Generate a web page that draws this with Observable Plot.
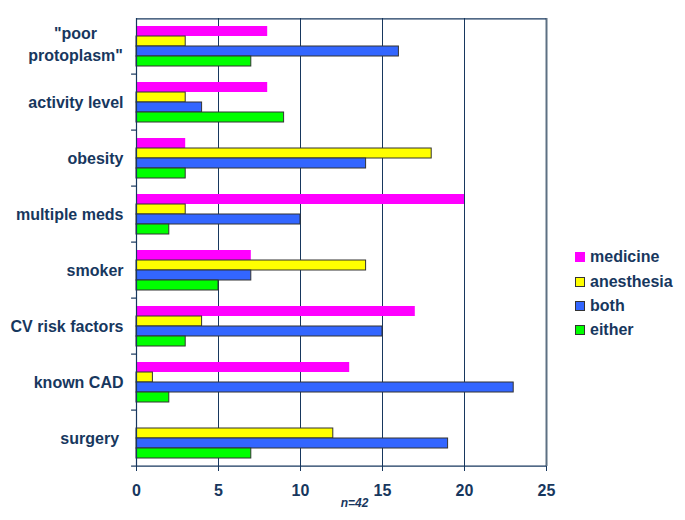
<!DOCTYPE html>
<html><head><meta charset="utf-8">
<script src="https://cdn.jsdelivr.net/npm/d3@7"></script>
<script src="https://cdn.jsdelivr.net/npm/@observablehq/plot@0.6"></script>
<style>
body{margin:0;background:#fff;}
#wrap{position:relative;width:685px;height:520px;font-family:"Liberation Sans",Arial,sans-serif;}
#legend{position:absolute;left:575px;top:245px;}
.item{display:flex;align-items:center;height:24.4px;font-size:16px;font-weight:bold;color:#17375e;}
.sw{width:10px;height:10px;margin-right:5px;box-sizing:border-box;}
svg text{white-space:pre;}
</style></head><body><div id="wrap"><div id="legend"></div></div>
<script>
const categories = ["poor protoplasm", "activity level", "obesity", "multiple meds", "smoker", "CV risk factors", "known CAD", "surgery"];
const categoryLabels = ['"poor\nprotoplasm"', "activity level", "obesity", "multiple meds", "smoker", "CV risk factors", "known CAD", "surgery "];
const series = ["medicine", "anesthesia", "both", "either"];
const medicine   = [8, 8, 3, 20, 7, 17, 13, 0];
const anesthesia = [3, 3, 18, 3, 14, 4, 1, 12];
const both       = [16, 4, 14, 10, 7, 15, 23, 19];
const either     = [7, 9, 3, 2, 5, 3, 2, 7];
const xTicks = [0, 5, 10, 15, 20, 25];
const note = "n=42";

const colors = ["#ff00ff", "#ffff00", "#3366ff", "#00ff00"];
const navy = "#17375e";
const values = [medicine, anesthesia, both, either];
const data = categories.flatMap((c, i) => series.map((s, j) => ({category: c, series: s, value: values[j][i]})));
const labelRows = categories.map((c, i) => ({category: c, label: categoryLabels[i]}));

const W = 685, H = 520, mt = 15, mb = 51, ml = 136, mr = 139;
const outer = 0.7;
const facetH = (H - mt - mb) / categories.length;
const step = facetH / (series.length + 2 * outer);
const edge = step * (outer + 0.5);

const plot = Plot.plot({
  width: W, height: H, marginTop: mt, marginBottom: mb, marginLeft: ml, marginRight: mr,
  style: {fontFamily: '"Liberation Sans", Arial, sans-serif', background: "transparent"},
  x: {domain: [xTicks[0], xTicks[xTicks.length - 1]]},
  y: {domain: series, paddingInner: 0, paddingOuter: outer, axis: null},
  fy: {domain: categories, padding: 0, axis: null},
  color: {domain: series, range: colors},
  marks: [
    Plot.gridX({ticks: xTicks.slice(1, -1), stroke: navy, strokeOpacity: 1, strokeWidth: 1}),
    Plot.barX(data, {filter: d => d.series === series[0], x: "value", y: "series", fy: "category", fill: "series"}),
    Plot.barX(data, {filter: d => d.series !== series[0], x: "value", y: "series", fy: "category", fill: "series", stroke: "#333", strokeWidth: 1}),
    Plot.ruleX([xTicks[0]], {stroke: navy, strokeWidth: 1.2}),
    Plot.ruleX([xTicks[xTicks.length - 1]], {stroke: "#5d7083", strokeWidth: 2}),
    Plot.ruleY([categories[0]], {fy: d => d, y: () => series[0], dy: -edge, x1: 0, x2: 25, stroke: navy, strokeWidth: 1.2}),
    Plot.ruleY(categories, {fy: d => d, y: () => series[series.length - 1], dy: edge, x1: -0.3, x2: 0, stroke: navy, strokeWidth: 1.2}),
    Plot.ruleY([categories[categories.length - 1]], {fy: d => d, y: () => series[series.length - 1], dy: edge, x1: 0, x2: 25, stroke: navy, strokeWidth: 1.2}),
    Plot.axisX({ticks: xTicks, tickSize: 5, tickPadding: 13, fontSize: 16, fontWeight: "bold", color: navy, label: null}),
    Plot.text(labelRows.slice(1), {fy: "category", text: "label", frameAnchor: "left", dx: -13, textAnchor: "end", fontSize: 16, fontWeight: "bold", fill: navy}),
    Plot.text(labelRows.slice(0, 1), {fy: "category", text: "label", frameAnchor: "left", dx: -61, dy: -4, textAnchor: "middle", lineHeight: 1.375, fontSize: 16, fontWeight: "bold", fill: navy}),
    Plot.text([note], {fy: () => categories[categories.length - 1], text: d => d, frameAnchor: "bottom", dx: 13, dy: 40, fontStyle: "italic", fontWeight: "bold", fontSize: 12, fill: navy})
  ]
});
document.getElementById("wrap").prepend(plot);

const legend = document.getElementById("legend");
series.forEach((s, i) => {
  const item = document.createElement("div");
  item.className = "item";
  const sw = document.createElement("span");
  sw.className = "sw";
  sw.style.background = colors[i];
  sw.style.border = i === 0 ? "none" : "1px solid #333";
  item.appendChild(sw);
  item.appendChild(document.createTextNode(s));
  legend.appendChild(item);
});
</script></body></html>
